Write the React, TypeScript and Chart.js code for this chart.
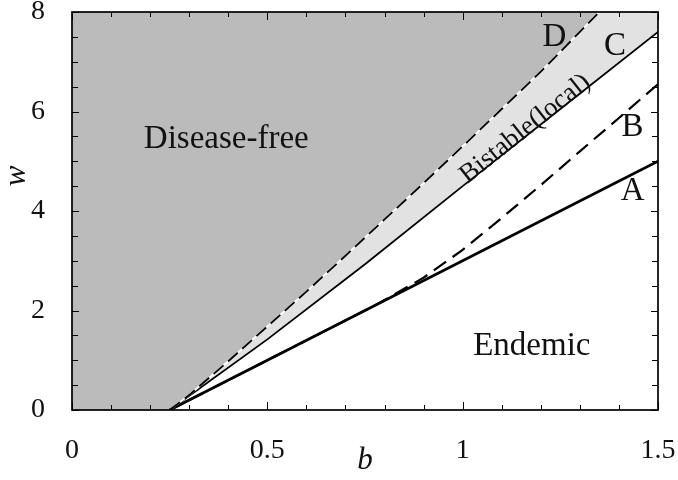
import React, { useEffect, useRef } from "react";
import { Chart, registerables } from "chart.js";

Chart.register(...registerables);

// Curve A (solid, thick)
const bA = [0.25, 1.5];
const wA = [0, 5];
// Curve B (dashed)
const bB = [0.25, 0.78, 0.9, 1.0, 1.1, 1.2, 1.3, 1.4, 1.5];
const wB = [0, 2.12, 2.66, 3.22, 3.86, 4.52, 5.2, 5.87, 6.55];
// Curve C (solid, thin)
const bC = [0.25, 0.5, 0.75, 1.0, 1.25, 1.5];
const wC = [0, 1.42, 2.93, 4.5, 6.05, 7.6];
// Curve D (dashed, boundary of disease-free region)
const bD = [0.25, 0.3, 0.4, 0.5, 0.6, 0.7, 0.8, 0.9, 1.0, 1.1, 1.2, 1.3, 1.35];
const wD = [0, 0.3, 0.98, 1.68, 2.38, 3.1, 3.83, 4.56, 5.3, 6.05, 6.8, 7.6, 8.0];

const xTicks = [0, 0.5, 1, 1.5];
const yTicks = [0, 2, 4, 6, 8];

const FONT = "'Liberation Serif', 'DejaVu Serif', serif";

const pts = (xs: number[], ys: number[]) => xs.map((x, i) => ({ x, y: ys[i] }));

const decor = {
  id: "decor",
  afterDraw(chart: any) {
    const { ctx, chartArea: a, scales } = chart;
    const xs = scales.x, ys = scales.y;
    ctx.save();
    ctx.strokeStyle = "#000";
    // ticks (inward)
    ctx.lineWidth = 1;
    for (let i = 0; i <= 15; i++) {
      const v = i / 10;
      const px = Math.round(xs.getPixelForValue(v)) + 0.5;
      const len = i % 5 === 0 ? 8 : 5;
      ctx.beginPath();
      ctx.moveTo(px, a.bottom); ctx.lineTo(px, a.bottom - len);
      ctx.moveTo(px, a.top); ctx.lineTo(px, a.top + len);
      ctx.stroke();
    }
    for (let i = 0; i <= 16; i++) {
      const v = i / 2;
      const py = Math.round(ys.getPixelForValue(v)) + 0.5;
      const len = i % 4 === 0 ? 7 : 6;
      ctx.beginPath();
      ctx.moveTo(a.left, py); ctx.lineTo(a.left + len, py);
      ctx.moveTo(a.right, py); ctx.lineTo(a.right - len, py);
      ctx.stroke();
    }
    // frame
    ctx.lineWidth = 1.7;
    ctx.strokeRect(a.left, a.top, a.right - a.left, a.bottom - a.top);

    // region labels
    ctx.fillStyle = "#111";
    ctx.textAlign = "center";
    ctx.textBaseline = "middle";
    ctx.font = `33px ${FONT}`;
    ctx.fillText("Disease-free", xs.getPixelForValue(0.395), ys.getPixelForValue(5.45));
    ctx.fillText("Endemic", xs.getPixelForValue(1.177), ys.getPixelForValue(1.27));
    ctx.fillText("D", xs.getPixelForValue(1.235), ys.getPixelForValue(7.5));
    ctx.fillText("C", xs.getPixelForValue(1.39), ys.getPixelForValue(7.3));
    ctx.fillText("B", xs.getPixelForValue(1.435), ys.getPixelForValue(5.68));
    ctx.fillText("A", xs.getPixelForValue(1.435), ys.getPixelForValue(4.4));

    // Bistable label rotated along C
    ctx.save();
    ctx.translate(xs.getPixelForValue(1.16), ys.getPixelForValue(5.65));
    ctx.rotate(-38.5 * Math.PI / 180);
    ctx.font = `27px ${FONT}`;
    ctx.fillText("Bistable(local)", 0, 0);
    ctx.restore();

    // axis titles
    ctx.font = `italic 31px ${FONT}`;
    ctx.fillText("b", (a.left + a.right) / 2, 461);
    ctx.save();
    ctx.translate(17, 176);
    ctx.rotate(-Math.PI / 2);
    ctx.fillText("w", 0, 0);
    ctx.restore();
    ctx.restore();
  },
};

export default function App() {
  const ref = useRef<HTMLCanvasElement | null>(null);
  useEffect(() => {
    if (!ref.current) return;
    const dark = "#bbbbbb";
    const light = "#e2e2e2";
    const chart = new Chart(ref.current, {
      type: "line",
      data: {
        datasets: [
          {
            label: "lightFill",
            data: pts(bC, wC),
            borderWidth: 0,
            pointRadius: 0,
            fill: "end",
            backgroundColor: light,
            order: 10,
          },
          {
            label: "darkFill",
            data: [{ x: 0, y: 0 }, ...pts(bD, wD)],
            borderWidth: 0,
            pointRadius: 0,
            fill: "end",
            backgroundColor: dark,
            order: 9,
          },
          {
            label: "C",
            data: pts(bC, wC),
            borderColor: "#000",
            borderWidth: 1.8,
            pointRadius: 0,
            fill: false,
            order: 6,
          },
          {
            label: "A",
            data: pts(bA, wA),
            borderColor: "#000",
            borderWidth: 2.8,
            pointRadius: 0,
            fill: false,
            order: 5,
          },
          {
            label: "B",
            data: pts(bB, wB),
            borderColor: "#000",
            borderWidth: 2.2,
            borderDash: [15, 8],
            pointRadius: 0,
            fill: false,
            order: 4,
          },
          {
            label: "Dwhite",
            data: pts(bD, wD),
            borderColor: "#ffffff",
            borderWidth: 1.8,
            pointRadius: 0,
            fill: false,
            order: 3,
          },
          {
            label: "D",
            data: pts(bD, wD),
            borderColor: "#000",
            borderWidth: 1.8,
            borderDash: [13, 6],
            pointRadius: 0,
            fill: false,
            order: 2,
          },
        ],
      },
      options: {
        responsive: false,
        animation: false,
        layout: { padding: { top: 12, right: 20, left: 0, bottom: 0 } },
        plugins: { legend: { display: false }, tooltip: { enabled: false } },
        elements: { line: { tension: 0 } },
        scales: {
          x: {
            type: "linear",
            min: 0,
            max: 1.5,
            afterBuildTicks: (s: any) => { s.ticks = xTicks.map((v) => ({ value: v })); },
            afterFit: (s: any) => {
              s.height = 70;
              s.paddingLeft = 0; s.paddingRight = 0; s.paddingTop = 0; s.paddingBottom = 0;
            },
            grid: { display: false, drawTicks: false },
            border: { display: false },
            ticks: {
              color: "#111", padding: 24, font: { family: FONT, size: 28 }, maxRotation: 0,
              callback: (v: any) => `${v}`,
            },
          },
          y: {
            type: "linear",
            min: 0,
            max: 8,
            afterBuildTicks: (s: any) => { s.ticks = yTicks.map((v) => ({ value: v })); },
            afterFit: (s: any) => {
              s.width = 72;
              s.paddingLeft = 0; s.paddingRight = 0; s.paddingTop = 0; s.paddingBottom = 0;
            },
            grid: { display: false, drawTicks: false },
            border: { display: false },
            ticks: {
              color: "#111", padding: 27, font: { family: FONT, size: 28 },
              callback: (v: any) => `${v}`,
            },
          },
        },
      },
      plugins: [decor],
    });
    return () => chart.destroy();
  }, []);
  return (
    <div style={{ position: "absolute", left: 0, top: 0, width: 678, height: 480, background: "#fff" }}>
      <canvas ref={ref} width={678} height={480} style={{ display: "block" }} />
    </div>
  );
}
